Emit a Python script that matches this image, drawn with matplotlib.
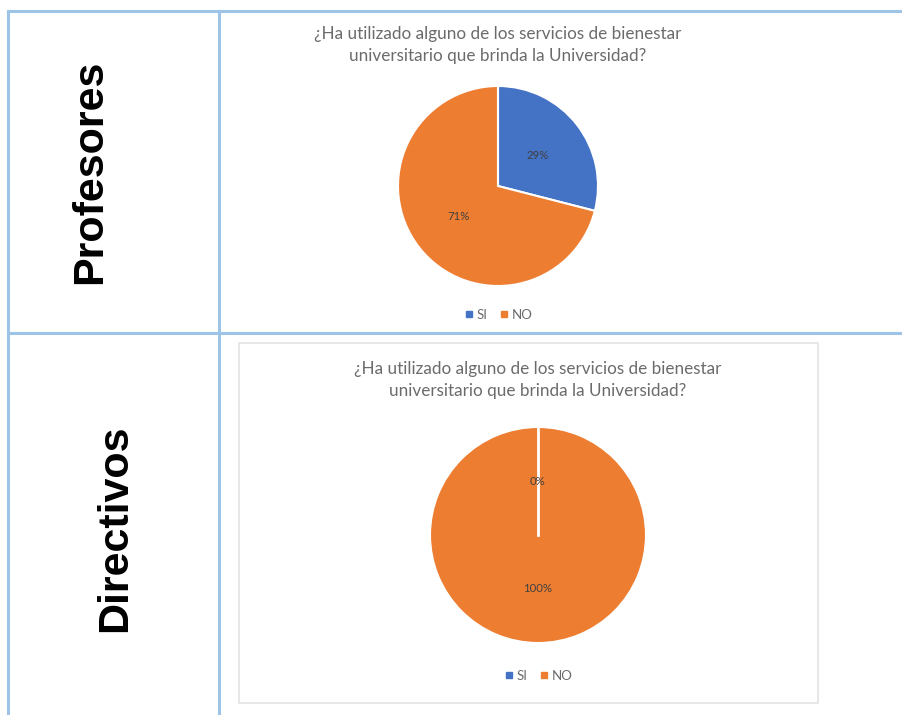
import matplotlib
matplotlib.use('Agg')
import matplotlib.pyplot as plt
import numpy as np
from matplotlib.lines import Line2D
from matplotlib.patches import Rectangle

# Data
groups = ['Profesores', 'Directivos']
categories = ['SI', 'NO']
profesores_values = [29, 71]
directivos_values = [0, 100]
title = '¿Ha utilizado alguno de los servicios de bienestar\nuniversitario que brinda la Universidad?'

colors = ['#4472C4', '#ED7D31']
border = '#9DC3E6'
gray_text = '#6B6B6B'

W, H = 902, 715
fig = plt.figure(figsize=(W / 100, H / 100), dpi=100)


def px_rect(left, top, width, height):
    # convert pixel box (from top-left) to figure fraction
    return [left / W, 1 - (top + height) / H, width / W, height / H]


def fx(x):
    return x / W


def fy(y):
    return 1 - y / H


# Table lines
line_ax = fig.add_axes([0, 0, 1, 1])
line_ax.set_xlim(0, W)
line_ax.set_ylim(H, 0)
line_ax.axis('off')
line_ax.plot([8, W], [11, 11], color=border, lw=2.2)
line_ax.plot([8, W], [333, 333], color=border, lw=2.2)
line_ax.plot([8, 8], [11, H], color=border, lw=2.2)
line_ax.plot([219, 219], [11, H], color=border, lw=2.2)
# gray frame of the second chart
line_ax.add_patch(Rectangle((239, 343), 579, 360, fill=False, edgecolor='#E3E3E3', lw=1.2))

# Row labels
fig.text(fx(90), fy(172), groups[0], rotation=90, ha='center', va='center',
         fontsize=31, fontweight='bold', family='Liberation Sans')
fig.text(fx(115), fy(528), groups[1], rotation=90, ha='center', va='center',
         fontsize=31, fontweight='bold', family='Liberation Sans')


def draw_pie(values, cx, cy, r, title_y, legend_y):
    ax = fig.add_axes(px_rect(cx - r, cy - r, 2 * r, 2 * r))
    wedges, _, _ = ax.pie(values, colors=colors, startangle=90, counterclock=False,
                          autopct='%1.0f%%', pctdistance=0.5,
                          wedgeprops=dict(edgecolor='white', linewidth=1.5),
                          textprops=dict(color='#404040', fontsize=8.2, family='Lato'))
    # zero slices are not drawn by matplotlib, so draw their white edge line
    for w in wedges:
        if w.theta2 == w.theta1:
            a = np.deg2rad(w.theta1)
            ax.plot([0, np.cos(a)], [0, np.sin(a)], color='white', lw=2, zorder=2)
    ax.set_xlim(-1, 1)
    ax.set_ylim(-1, 1)
    ax.axis('off')
    fig.text(fx(cx), fy(title_y), title, ha='center', va='center', color=gray_text,
             fontsize=12.3, family='Lato', linespacing=1.4)
    handles = [Line2D([], [], marker='s', linestyle='', markersize=4.5,
                      markerfacecolor=c, markeredgecolor=c) for c in colors]
    fig.legend(handles, categories, loc='center', bbox_to_anchor=(fx(cx), fy(legend_y)),
               ncol=2, frameon=False, handletextpad=0.2, columnspacing=0.8,
               handlelength=0.8, prop=dict(family='Lato', size=9.5),
               labelcolor=gray_text)


draw_pie(profesores_values, 498, 186, 100, 45, 315)
draw_pie(directivos_values, 538, 535, 108, 380, 676)

fig.savefig('out.png', dpi=100)
